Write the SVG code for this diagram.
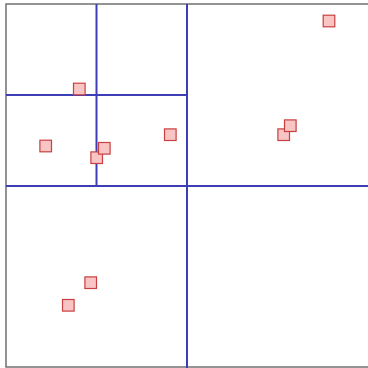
<svg xmlns="http://www.w3.org/2000/svg" width="368" height="368" viewBox="0 0 368 368">
<style>
.frame{fill:#fff;stroke:#707070;stroke-width:1.5}
.div{stroke:#3d3db5;stroke-width:2;fill:none}
.pt{fill:#f8c4c4;stroke:#c84040;stroke-width:1.2}
</style>
<rect width="368" height="368" fill="#fff"/>
<rect class="frame" x="6" y="4" width="364" height="363"/>
<g id="connectors">
<line class="div" x1="187" y1="4" x2="187" y2="368"/>
<line class="div" x1="6" y1="186" x2="368" y2="186"/>
<line class="div" x1="96.5" y1="4" x2="96.5" y2="186"/>
<line class="div" x1="6" y1="95" x2="187" y2="95"/>
</g>
<g id="p1"><rect class="pt" x="73.5" y="83.2" width="11.6" height="11.6"/></g>
<g id="p2"><rect class="pt" x="39.9" y="140.2" width="11.6" height="11.6"/></g>
<g id="p3"><rect class="pt" x="90.9" y="151.9" width="11.6" height="11.6"/></g>
<g id="p4"><rect class="pt" x="98.5" y="142.5" width="11.6" height="11.6"/></g>
<g id="p5"><rect class="pt" x="164.5" y="128.9" width="11.6" height="11.6"/></g>
<g id="p6"><rect class="pt" x="323.2" y="15.2" width="11.6" height="11.6"/></g>
<g id="p7"><rect class="pt" x="277.9" y="128.9" width="11.6" height="11.6"/></g>
<g id="p8"><rect class="pt" x="284.5" y="119.9" width="11.6" height="11.6"/></g>
<g id="p9"><rect class="pt" x="84.9" y="276.9" width="11.6" height="11.6"/></g>
<g id="p10"><rect class="pt" x="62.5" y="299.5" width="11.6" height="11.6"/></g>
</svg>
